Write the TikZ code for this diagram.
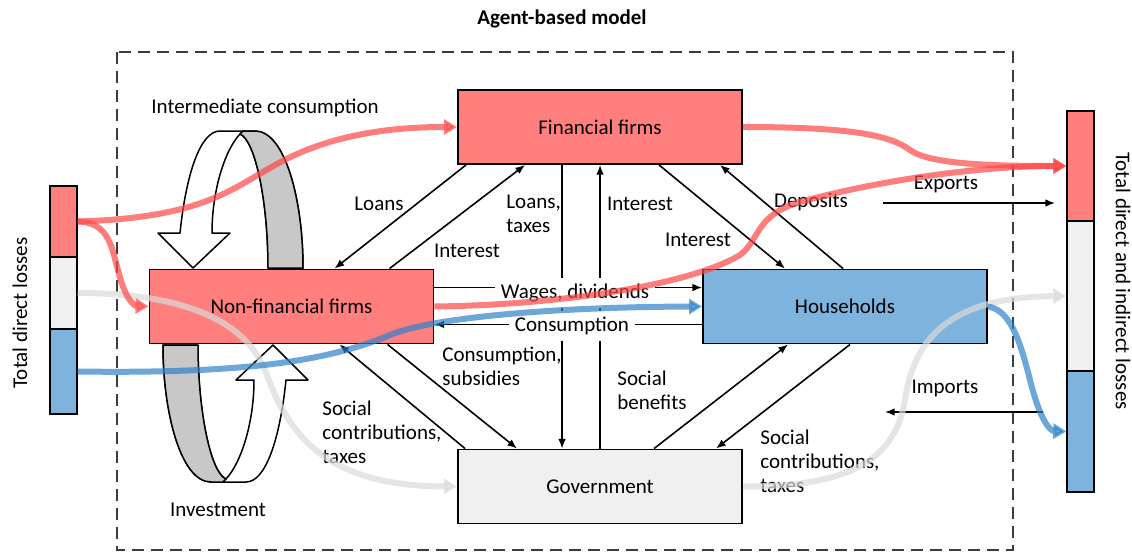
\documentclass[tikz,border=0pt]{standalone}
\usepackage{fontspec}
\setmainfont{Carlito}
\usetikzlibrary{arrows.meta,calc}

\definecolor{firmred}{RGB}{255,127,127}
\definecolor{hhblue}{RGB}{126,179,221}
\definecolor{govgrey}{RGB}{240,240,240}
\definecolor{ribgrey}{RGB}{200,200,200}
\definecolor{flowred}{RGB}{255,70,70}
\definecolor{flowblue}{RGB}{45,130,200}
\definecolor{flowgrey}{RGB}{218,218,218}
\definecolor{framegrey}{RGB}{60,60,60}

\begin{document}
\begin{tikzpicture}[x=0.5pt,y=-0.5pt,
  every node/.style={font=\fontsize{10.5}{12}\selectfont},
  agent/.style={draw,line width=0.95pt,minimum width=142pt,minimum height=37pt},
  bar/.style={draw,line width=0.7pt,minimum width=13.5pt,inner sep=0pt},
  link/.style={line width=0.8pt,-{Latex[length=4.8pt,width=3.8pt]}},
  lbl/.style={inner sep=1pt,align=left},
  flow/.style={line width=3pt,opacity=0.7,-{Triangle[length=6.5pt,width=7.5pt]}}]
  \useasboundingbox (0,0) rectangle (1132,552);

  \node[font=\fontsize{10.5}{12}\selectfont\bfseries] (title) at (562,19) {Agent-based model};
  \draw[framegrey,line width=1.4pt,dash pattern=on 6pt off 3.5pt] (117,52) rectangle (1013,550);

  \node[agent,fill=firmred] (fin) at (600,127) {Financial firms};
  \node[agent,fill=firmred] (nonfin) at (291.5,306.5) {Non-financial firms};
  \node[agent,fill=hhblue] (hh) at (845,306.5) {Households};
  \node[agent,fill=govgrey] (gov) at (600,486.5) {Government};

  \node[bar,fill=firmred,minimum height=35.5pt] (lred) at (63.5,221.5) {};
  \node[bar,fill=govgrey,minimum height=36pt] (lgrey) at (63.5,293) {};
  \node[bar,fill=hhblue,minimum height=42.5pt] (lblue) at (63.5,371.5) {};
  \node[rotate=90] (lloss) at (20,313) {Total direct losses};

  \node[bar,fill=firmred,minimum height=55pt] (rred) at (1080.5,166) {};
  \node[bar,fill=govgrey,minimum height=75pt] (rgrey) at (1080.5,296) {};
  \node[bar,fill=hhblue,minimum height=60.5pt] (rblue) at (1080.5,431.5) {};
  \node[rotate=-90] (rloss) at (1123,281) {Total direct and indirect losses};

  \foreach \r in {0,180} {
    \begin{scope}[rotate around={\r:(233,306.5)},line width=0.75pt,line join=round]
      \filldraw[fill=white] (193,268) -- (158,233) -- (180,233)
        .. controls (186,175) and (200,131) .. (220,131) -- (255,131)
        .. controls (285,131) and (303,200) .. (303,268) -- (268,268)
        .. controls (268,200) and (255,140) .. (240,134)
        .. controls (225,150) and (212,190) .. (212,233) -- (230,233) -- cycle;
      \filldraw[fill=ribgrey] (240,134) -- (243,131) -- (255,131)
        .. controls (285,131) and (303,200) .. (303,268) -- (268,268)
        .. controls (268,200) and (255,140) .. (240,134) -- cycle;
    \end{scope}
  }
  \node (intcons) at (265,108) {Intermediate consumption};
  \node (invest) at (218,510) {Investment};

  \draw[link] ($(fin.south west)+(9,0)$) -- ($(nonfin.north west)+(186,0)$);
  \draw[link] ($(nonfin.north west)+(241,0)$) -- ($(fin.south west)+(68,0)$);
  \draw[link] ($(fin.south west)+(105,0)$) -- ($(gov.north west)+(105,0)$);
  \draw[link] ($(gov.north west)+(143,0)$) -- ($(fin.south west)+(143,0)$);
  \draw[link] ($(fin.south west)+(202,0)$) -- ($(hh.north west)+(83,0)$);
  \draw[link] ($(hh.north west)+(141,0)$) -- ($(fin.south west)+(263,0)$);
  \draw[link] ($(nonfin.north east)+(0,19)$) -- ($(hh.north west)+(0,19)$);
  \draw[link] ($(hh.south west)+(0,-20)$) -- ($(nonfin.south east)+(0,-20)$);
  \draw[link] ($(gov.north west)+(8,0)$) -- ($(nonfin.south west)+(191,0)$);
  \draw[link] ($(nonfin.south west)+(239,0)$) -- ($(gov.north west)+(60,0)$);
  \draw[link] ($(gov.north west)+(197,0)$) -- ($(hh.south west)+(86,0)$);
  \draw[link] ($(hh.south west)+(148,0)$) -- ($(gov.north west)+(259,0)$);

  \coordinate (expA) at (883,203);
  \coordinate (expB) at (1055,203);
  \coordinate (impA) at (1043,412);
  \coordinate (impB) at (885,412);
  \draw[link] (expA) -- (expB);
  \draw[link] (impA) -- (impB);

  \node (loans) at (379,204) {Loans};
  \node (int1) at (467,251) {Interest};
  \node[lbl,anchor=west] (loantax) at (504,214) {Loans,\\taxes};
  \node (int2) at (640,204) {Interest};
  \node (int3) at (698,240) {Interest};
  \node (depo) at (811,202) {Deposits};
  \node[fill=white,inner sep=3pt] (wages) at (575,293) {Wages, dividends};
  \node[fill=white,inner sep=3pt] (cons) at (572,326) {Consumption};
  \node[lbl,anchor=west] (conssub) at (440,366) {Consumption,\\subsidies};
  \node[lbl,anchor=west] (socben) at (615,390) {Social\\benefits};
  \node[lbl,anchor=west] (soccl) at (320,432) {Social\\contributions,\\taxes};
  \node[lbl,anchor=west] (soccr) at (758,461) {Social\\contributions,\\taxes};
  \node (exports) at (946,184) {Exports};
  \node (imports) at (945,388) {Imports};

  \draw[flow,flowgrey] (lgrey.east) .. controls (160,293) and (240,310) .. (265,370)
    .. controls (290,440) and (330,486) .. (gov.west);
  \draw[flow,flowgrey] (gov.east) .. controls (850,487) and (895,460) .. (905,400)
    .. controls (915,330) and (960,297) .. (rgrey.west);

  \draw[flow,flowred] (lred.east) .. controls (200,218) and (230,190) .. (270,168)
    .. controls (320,138) and (380,127) .. (fin.west);
  \draw[flow,flowred] (lred.east) .. controls (110,222) and (112,250) .. (118,270)
    .. controls (125,300) and (135,306) .. (nonfin.west);
  \draw[flow,flowred] (fin.east) .. controls (850,127) and (890,135) .. (910,150)
    .. controls (930,165) and (1000,166) .. (rred.west);
  \draw[flow,flowred] (nonfin.east) .. controls (560,305) and (690,285) .. (740,255)
    .. controls (760,240) and (755,215) .. (800,202)
    .. controls (880,180) and (980,166) .. (rred.west);

  \draw[flow,flowblue] (lblue.east) .. controls (250,374) and (330,360) .. (390,335)
    .. controls (430,318) and (550,307) .. (hh.west);
  \draw[flow,flowblue] (hh.east) .. controls (1010,310) and (1020,340) .. (1030,380)
    .. controls (1040,420) and (1050,431) .. (rblue.west);
\end{tikzpicture}
\end{document}
